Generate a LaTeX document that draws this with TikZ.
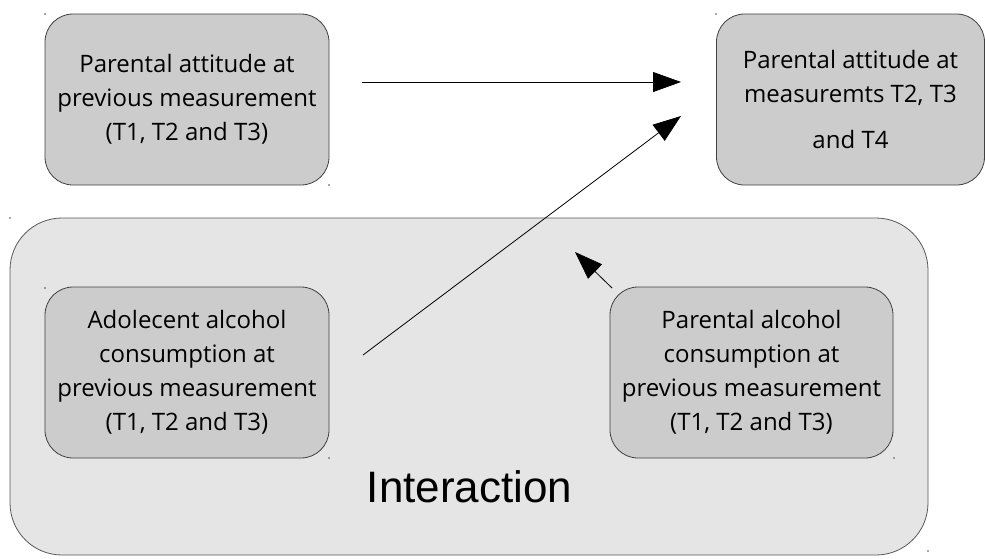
\documentclass[tikz,border=0pt]{standalone}
\usepackage{fontspec}
\setmainfont{Open Sans}
\newfontfamily\arialfont{Liberation Sans}
\usetikzlibrary{arrows.meta}
\begin{document}
\begin{tikzpicture}[x=1pt,y=-1pt,
  inbox/.style={draw=black!75, fill=black!20, rounded corners=28pt, line width=0.8pt,
    minimum width=284pt, minimum height=171pt, align=center, inner sep=0pt,
    font=\fontsize{24}{34}\selectfont},
  outbox/.style={draw=black!65, fill=black!10, rounded corners=52pt, line width=0.8pt,
    minimum width=918pt, minimum height=337pt, inner sep=0pt},
  arr/.style={-{Triangle[length=28pt,width=20pt]}, line width=0.8pt, black},
  spot/.style={circle, fill=black!70, inner sep=0pt, minimum size=1.6pt}]
\useasboundingbox (0,0) rectangle (985,558);
\fill[white] (0,0) rectangle (985,558);
% outer interaction box
\node[outbox] (big) at (469,386.5) {};
\node[font=\arialfont\fontsize{44}{44}\selectfont, anchor=base] (inter) at (469.5,502) {Interaction};
% inner boxes
\node[inbox] (pa) at (187,99.5) {Parental attitude at\\previous measurement\\(T1, T2 and T3)};
\node[inbox, minimum width=268pt] (pt) at (850.5,99.5) {Parental attitude at\\measuremts T2, T3\\[12pt]and T4};
\node[inbox] (ad) at (187,372.5) {Adolecent alcohol\\consumption at\\previous measurement\\(T1, T2 and T3)};
\node[inbox, minimum width=283pt] (pc) at (751.5,372.5) {Parental alcohol\\consumption at\\previous measurement\\(T1, T2 and T3)};
% corner spots
\node[spot] (s1) at (45,14) {};
\node[spot] (s2) at (329,185) {};
\node[spot] (s3) at (716,14) {};
\node[spot] (s4) at (10,218) {};
\node[spot] (s5) at (45,288) {};
\node[spot] (s6) at (329,458) {};
\node[spot] (s7) at (894,458) {};
\node[spot] (s8) at (928,551) {};
% arrow end points
\coordinate (a1s) at (362,82);
\coordinate (a1e) at (681,82);
\coordinate (a2s) at (363,355);
\coordinate (a2e) at (681,116);
\coordinate (a3s) at (612,288);
\coordinate (a3e) at (575,252);
\draw[arr] (a1s) -- (a1e);
\draw[arr] (a2s) -- (a2e);
\draw[arr] (a3s) -- (a3e);
\end{tikzpicture}
\end{document}
